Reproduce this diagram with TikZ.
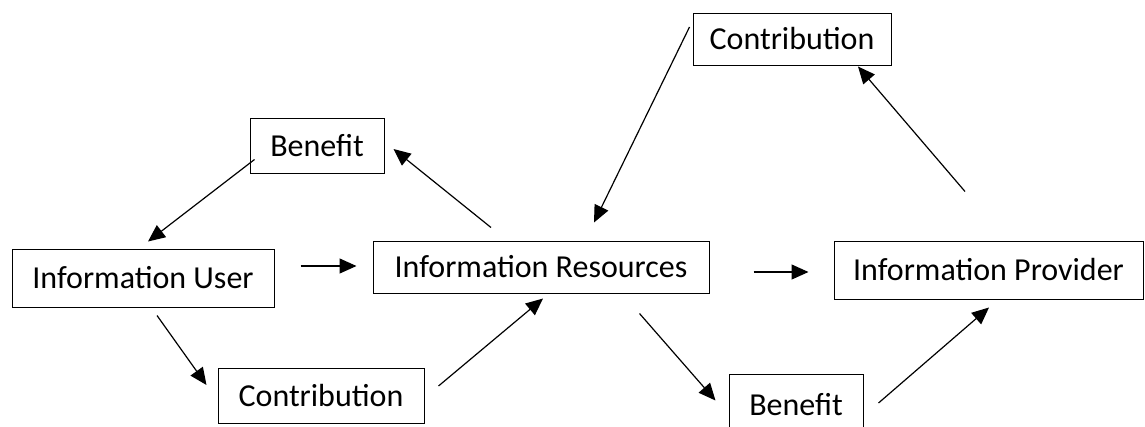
\documentclass[tikz,border=0pt]{standalone}
\usepackage{fontspec}
\setmainfont{Carlito}
\usepackage{tikz}
\usetikzlibrary{arrows.meta}
\tikzstyle{box} = [draw, line width=1pt, inner sep=0pt, font=\fontsize{32}{38}\selectfont]
\tikzstyle{flow} = [line width=1.2pt]

\begin{document}
\begin{tikzpicture}[x=1pt,y=-1pt,->,>={Triangle[length=17pt,width=15pt]}]
\useasboundingbox (0,0) rectangle (1145,426);

%\node [box, name = title] {};
\node[box, minimum width=262, minimum height=58] (user) at (143,278) {Information User};
\node[box, minimum width=336, minimum height=52] (res) at (541,267) {Information Resources};
\node[box, minimum width=309, minimum height=58] (prov) at (988.5,270) {Information Provider};
\node[box, minimum width=134, minimum height=55] (ben1) at (317,145.5) {Benefit};
\node[box, minimum width=198, minimum height=52] (con1) at (792,39) {Contribution};
\node[box, minimum width=206, minimum height=55] (con2) at (321,395.5) {Contribution};
\node[box, minimum width=134, minimum height=62] (ben2) at (796,405) {Benefit};

\coordinate (b1out) at ([shift={(5,-14)}]ben1.south west);
\coordinate (b1in) at ([shift={(9,3.5)}]ben1.east);
\coordinate (uin) at ([shift={(5,-7)}]user.north);
\coordinate (uout1) at ([shift={(26,-12)}]user.east);
\coordinate (uout2) at ([shift={(14,8)}]user.south);
\coordinate (rin1) at ([shift={(-16,-1)}]res.west);
\coordinate (rin2) at ([shift={(53,-18)}]res.north);
\coordinate (rin3) at ([shift={(2,5)}]res.south);
\coordinate (rout1) at ([shift={(-50,-13)}]res.north);
\coordinate (rout2) at ([shift={(-70,20)}]res.south east);
\coordinate (rout3) at ([shift={(44,5)}]res.east);
\coordinate (c1out) at ([shift={(-3,-12)}]con1.west);
\coordinate (c1in) at ([shift={(66,1)}]con1.south);
\coordinate (c2in) at ([shift={(-11,-10.5)}]con2.west);
\coordinate (c2out) at ([shift={(14,-9.5)}]con2.east);
\coordinate (b2in) at ([shift={(-13,-4.5)}]ben2.west);
\coordinate (b2out) at ([shift={(15,-2)}]ben2.east);
\coordinate (pin1) at ([shift={(-25,2)}]prov.west);
\coordinate (pin2) at ([shift={(0.5,8)}]prov.south);
\coordinate (pout) at ([shift={(-23.5,-49)}]prov.north);

\path
(b1out) edge [flow] node {} (uin)
(uout1) edge [flow] node {} (rin1)
(rout1) edge [flow] node {} (b1in)
(uout2) edge [flow] node {} (c2in)
(c2out) edge [flow] node {} (rin3);

\path
(c1out) edge [flow] node {} (rin2)
(rout3) edge [flow] node {} (pin1)
(pout) edge [flow] node {} (c1in)
(rout2) edge [flow] node {} (b2in)
(b2out) edge [flow] node {} (pin2);

\end{tikzpicture}
\end{document}
